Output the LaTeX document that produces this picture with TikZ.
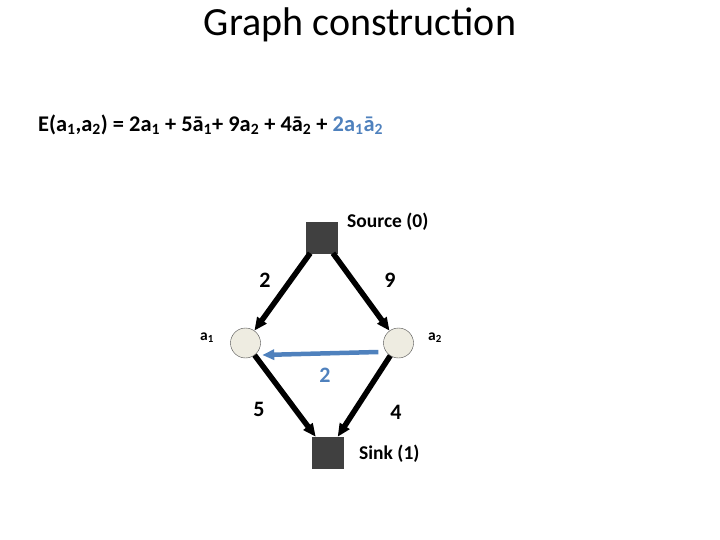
\documentclass[tikz,border=0pt]{standalone}
\usepackage{fontspec}
\setmainfont{Carlito}
\usepackage{xcolor}
\usetikzlibrary{arrows.meta,positioning}
\definecolor{termblue}{RGB}{79,129,189}
\definecolor{termnode}{RGB}{238,236,225}
\definecolor{termsq}{RGB}{64,64,64}
\newcommand{\subi}[1]{\textsubscript{#1}}

\begin{document}
\begin{tikzpicture}[x=1pt, y=-1pt,
  every node/.style={inner sep=0pt},
  term/.style={draw=black!75, fill=termsq, minimum size=31pt},
  var/.style={circle, draw=black!70, fill=termnode, minimum size=30pt},
  weight/.style={font=\bfseries\fontsize{22}{25}\selectfont},
  lbl/.style={font=\bfseries\fontsize{19.5}{22}\selectfont, anchor=west},
  arr/.style={-{Triangle[length=13pt, width=11pt]}, line width=5.5pt},
  pair/.style={-{Triangle[length=12pt, width=10pt]}, line width=4.5pt, draw=termblue}
]
\useasboundingbox (0,0) rectangle (720,540);
\node at (360,25) {\fontsize{40}{44}\selectfont Graph construction};
\node[anchor=west] at (38,125) {\bfseries\fontsize{22.4}{26}\selectfont
  E(a\subi{1},a\subi{2}) = 2a\subi{1} + 5ā\subi{1}+ 9a\subi{2} + 4ā\subi{2} +
  \textcolor{termblue}{2a\subi{1}ā\subi{2}}};

% terminals and variables
\node[term] (src) at (321.5,237.5) {};
\node[term] (snk) at (327.5,452.5) {};
\node[var] (a1) at (245.5,343) {};
\node[var] (a2) at (398.5,343) {};

\node[lbl] at (347,222) {Source (0)};
\node[lbl] at (359,454) {Sink (1)};
\node[font=\bfseries\fontsize{15.5}{18}\selectfont] at (207,338) {a\subi{1}};
\node[font=\bfseries\fontsize{15.5}{18}\selectfont] at (435,338) {a\subi{2}};

\draw[arr] (src) -- (a1);
\draw[arr] (src) -- (a2);
\draw[arr] (a1) -- (snk);
\draw[arr] (a2) -- (snk);
\draw[pair] ([shift={(-5pt,-9pt)}]a2.west) -- ([shift={(1.5pt,-12pt)}]a1.east);

\node[weight] at (265,280) {2};
\node[weight] at (390,280) {9};
\node[weight] at (259,409) {5};
\node[weight] at (396,412) {4};
\node[weight, text=termblue] at (325,375) {2};
\end{tikzpicture}
\end{document}
